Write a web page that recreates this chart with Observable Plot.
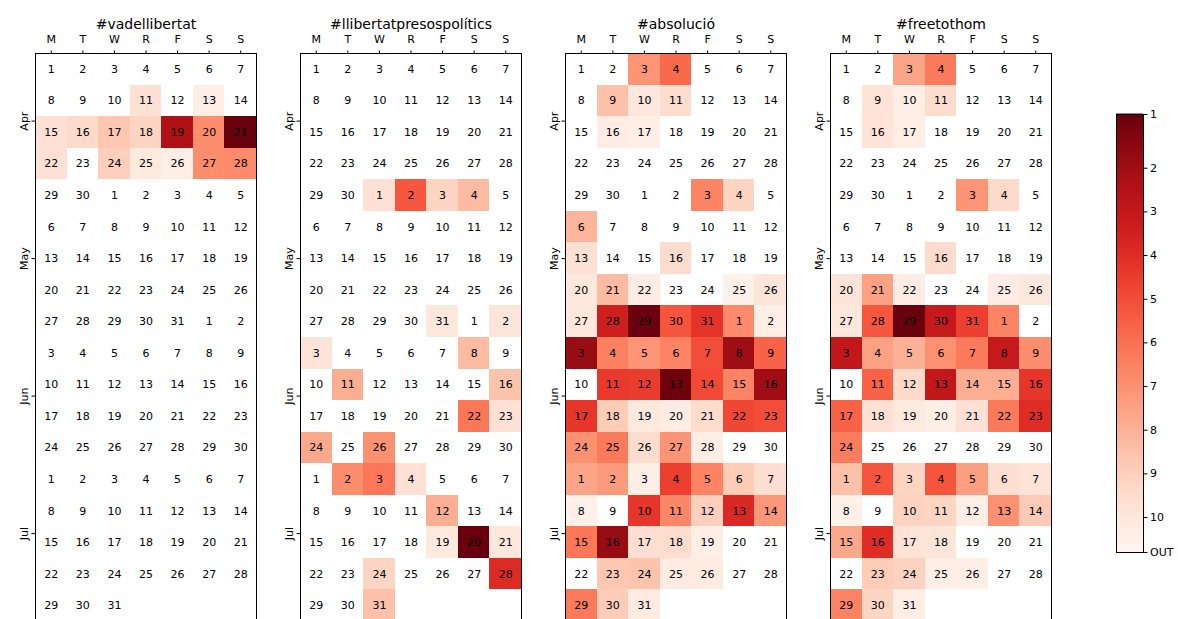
<!DOCTYPE html>
<html><head><meta charset="utf-8">
<script src="https://cdn.jsdelivr.net/npm/d3@7"></script>
<script src="https://cdn.jsdelivr.net/npm/@observablehq/plot@0.6"></script>
<style>
html,body{margin:0;padding:0;background:#fff;overflow:hidden;width:1178px;height:619px}
#root{position:relative;width:1178px;height:619px}
#root svg{position:absolute;overflow:visible}
</style></head><body><div id="root"></div>
<script>
const hashtags = ["#vadellibertat", "#llibertatpresospolítics", "#absolució", "#freetothom"];
const weekdayLabels = ["M", "T", "W", "R", "F", "S", "S"];
const monthLabels = ["Apr", "May", "Jun", "Jul"];
const colorbarLabels = ["1", "2", "3", "4", "5", "6", "7", "8", "9", "10", "OUT"];
const rankBest = 0.77, rankOut = 10.8;

// [month-day, rank score] (cells not listed are OUT of the top 10)
const vadellibertat = [
  ["04-11", 9.7], ["04-13", 10.4], ["04-15", 9.7], ["04-16", 9.4], ["04-17", 8.7], ["04-18", 9.2],
  ["04-19", 2.4], ["04-20", 6.9], ["04-21", 0.8], ["04-22", 9.7], ["04-24", 9.0], ["04-25", 10.1],
  ["04-26", 10.4], ["04-27", 6.9], ["04-28", 6.8]
];
const llibertatpresospolitics = [
  ["05-01", 9.7], ["05-02", 5.3], ["05-03", 9.2], ["05-04", 8.3], ["05-31", 10.0], ["06-02", 9.9],
  ["06-03", 9.8], ["06-08", 8.3], ["06-11", 7.9], ["06-16", 8.6], ["06-22", 6.2], ["06-23", 9.7],
  ["06-24", 7.7], ["06-26", 7.0], ["07-02", 6.9], ["07-03", 6.2], ["07-04", 9.7], ["07-12", 7.9],
  ["07-19", 10.1], ["07-20", 0.8], ["07-21", 10.0], ["07-24", 9.2], ["07-28", 3.9], ["07-31", 8.5]
];
const absolucio = [
  ["04-03", 7.1], ["04-04", 5.8], ["04-09", 8.5], ["04-10", 10.0], ["04-11", 9.55], ["04-16", 10.3],
  ["04-17", 10.4], ["05-03", 6.6], ["05-04", 9.2], ["05-06", 8.1], ["05-13", 9.7], ["05-16", 9.5],
  ["05-20", 10.0], ["05-21", 8.3], ["05-22", 10.3], ["05-25", 10.5], ["05-26", 9.9], ["05-27", 10.0],
  ["05-28", 3.4], ["05-29", 0.85], ["05-30", 5.2], ["05-31", 4.2], ["06-01", 6.8], ["06-02", 10.4],
  ["06-03", 1.8], ["06-04", 6.5], ["06-05", 7.1], ["06-06", 6.6], ["06-07", 5.0], ["06-08", 2.0],
  ["06-09", 5.6], ["06-11", 4.4], ["06-12", 4.5], ["06-13", 0.95], ["06-14", 4.9], ["06-15", 6.6],
  ["06-16", 2.0], ["06-17", 4.3], ["06-18", 8.9], ["06-19", 10.1], ["06-20", 10.3], ["06-21", 9.55],
  ["06-22", 4.8], ["06-23", 5.0], ["06-24", 7.0], ["06-25", 6.3], ["06-26", 9.55], ["06-27", 7.1],
  ["06-28", 10.4], ["07-01", 7.6], ["07-02", 7.3], ["07-03", 10.4], ["07-04", 4.6], ["07-05", 6.6],
  ["07-06", 8.9], ["07-07", 9.6], ["07-08", 10.5], ["07-10", 4.3], ["07-11", 6.7], ["07-12", 9.0],
  ["07-13", 3.8], ["07-14", 7.2], ["07-15", 6.2], ["07-16", 1.8], ["07-17", 9.6], ["07-18", 9.55],
  ["07-19", 10.4], ["07-23", 8.7], ["07-24", 8.6], ["07-25", 10.2], ["07-26", 10.2], ["07-29", 6.3],
  ["07-30", 8.9], ["07-31", 10.2]
];
const freetothom = [
  ["04-03", 7.6], ["04-04", 6.3], ["04-09", 9.8], ["04-10", 10.4], ["04-11", 9.55], ["04-16", 9.8],
  ["04-17", 10.4], ["05-03", 7.1], ["05-04", 9.4], ["05-16", 9.5], ["05-20", 9.85], ["05-21", 7.5],
  ["05-22", 10.3], ["05-25", 10.3], ["05-26", 10.0], ["05-27", 10.0], ["05-28", 5.3], ["05-29", 0.8],
  ["05-30", 3.1], ["05-31", 4.6], ["06-01", 6.6], ["06-03", 3.0], ["06-04", 7.5], ["06-05", 8.0],
  ["06-06", 7.0], ["06-07", 6.3], ["06-08", 3.1], ["06-09", 6.9], ["06-11", 5.6], ["06-12", 9.4],
  ["06-13", 3.0], ["06-14", 7.9], ["06-15", 7.9], ["06-16", 4.3], ["06-17", 5.6], ["06-18", 9.7],
  ["06-19", 10.1], ["06-20", 10.4], ["06-21", 9.7], ["06-22", 6.3], ["06-23", 4.0], ["06-24", 6.4],
  ["07-01", 8.5], ["07-02", 5.2], ["07-03", 9.2], ["07-04", 5.2], ["07-05", 7.4], ["07-06", 9.6],
  ["07-07", 9.8], ["07-08", 10.5], ["07-10", 9.1], ["07-11", 9.2], ["07-12", 10.4], ["07-13", 7.0],
  ["07-14", 8.8], ["07-15", 7.7], ["07-16", 4.0], ["07-17", 9.8], ["07-18", 9.9], ["07-23", 8.9],
  ["07-24", 9.1], ["07-25", 10.4], ["07-26", 10.4], ["07-29", 6.6], ["07-30", 9.2], ["07-31", 10.4]
];
const seriesList = [vadellibertat, llibertatpresospolitics, absolucio, freetothom];

const year = 2019;
const start = new Date(year, 3, 1), end = new Date(year, 7, 1);
const fmtMD = d3.timeFormat("%m-%d");
const days = d3.timeDay.range(start, end).map(d => {
  const off = d3.timeDay.count(start, d);
  return {date: d, md: fmtMD(d), day: d.getDate(), col: (d.getDay() + 6) % 7, week: Math.floor((off + (start.getDay() + 6) % 7) / 7)};
});
const monthStarts = d3.timeMonth.range(start, end);
const monthTicks = monthStarts.map(m => {
  const n = d3.timeDay.count(m, d3.timeMonth.offset(m, 1));
  return (d3.timeDay.count(start, m) + n / 2) / 7 - 0.5;
});
const monthTickLabel = new Map(monthTicks.map((t, i) => [t, monthLabels[i]]));

const colorScale = {type: "linear", scheme: "reds", domain: [rankBest, rankOut], reverse: true};
const font = "DejaVu Sans, sans-serif";
const root = document.getElementById("root");

hashtags.forEach((name, i) => {
  const vals = new Map(seriesList[i]);
  const filled = days.filter(d => vals.has(d.md)).map(d => ({...d, v: vals.get(d.md)}));
  const nWeeks = d3.max(days, d => d.week) + 1;
  const svg = Plot.plot({
    width: 265, height: 621,
    marginLeft: 35, marginRight: 9, marginTop: 53, marginBottom: 0,
    style: {fontFamily: font, fontSize: "11px", color: "black", background: "transparent", overflow: "visible"},
    x: {domain: [-0.5, 6.5], axis: "top", ticks: d3.range(7), tickFormat: k => weekdayLabels[k], tickSize: 3.5, tickPadding: 7.5, label: null},
    y: {domain: [-0.5, nWeeks - 0.5], reverse: true, ticks: monthTicks, tickFormat: t => monthTickLabel.get(t), tickRotate: -90, tickSize: 3.5, tickPadding: 4, label: null},
    color: colorScale,
    marks: [
      Plot.rect(filled, {x1: d => d.col - 0.5, x2: d => d.col + 0.5, y1: d => d.week - 0.5, y2: d => d.week + 0.5, fill: "v", shapeRendering: "crispEdges"}),
      Plot.text(days, {x: "col", y: "week", text: "day", fontSize: 11, fill: "black"}),
      Plot.frame({stroke: "black", strokeWidth: 1}),
      Plot.text([name], {frameAnchor: "top", dy: -34, text: d => d, fontSize: 14, fill: "black"})
    ]
  });
  svg.style.left = (i * 265) + "px";
  svg.style.top = "0px";
  root.appendChild(svg);
});

// colorbar
const nSteps = 220;
const step = (rankOut - rankBest) / nSteps;
const bands = d3.range(nSteps).map(k => ({y1: rankBest + k * step, y2: rankBest + (k + 1) * step}));
const cbTicks = [rankBest, ...d3.range(2, 11), rankOut];
const cbLabel = new Map(cbTicks.map((t, i) => [t, colorbarLabels[i]]));
const cb = Plot.plot({
  width: 27 + 40, height: 438 + 20,
  marginLeft: 0, marginRight: 40, marginTop: 10, marginBottom: 10,
  style: {fontFamily: font, fontSize: "11px", color: "black", background: "transparent", overflow: "visible"},
  x: {domain: [0, 1], axis: null},
  y: {domain: [rankBest, rankOut], reverse: true, axis: "right", ticks: cbTicks, tickFormat: t => cbLabel.get(t), tickSize: 3.5, tickPadding: 3, label: null},
  color: colorScale,
  marks: [
    Plot.rect(bands, {x1: 0, x2: 1, y1: "y1", y2: "y2", fill: d => (d.y1 + d.y2) / 2, insetTop: -0.5, insetBottom: -0.5}),
    Plot.frame({stroke: "black", strokeWidth: 1})
  ]
});
cb.style.left = "1116px";
cb.style.top = "104px";
root.appendChild(cb);
</script>
</body></html>
